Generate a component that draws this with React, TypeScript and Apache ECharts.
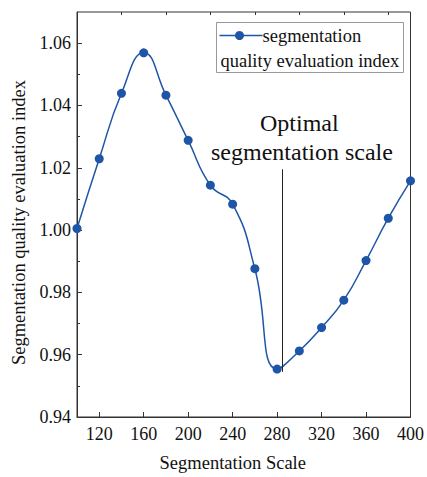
import React, { useEffect, useRef } from "react";
import * as echarts from "echarts";

const scales = [100, 120, 140, 160, 180, 200, 220, 240, 260, 280, 300, 320, 340, 360, 380, 400];
const qualityIndex = [1.0005, 1.0229, 1.0439, 1.0569, 1.0433, 1.0288, 1.0144, 1.0083, 0.9876, 0.9554, 0.9612, 0.9687, 0.9775, 0.9902, 1.0038, 1.0158];
const xMajorTicks = [120, 160, 200, 240, 280, 320, 360, 400];
const xMinorTicks = [140, 180, 220, 260, 300, 340, 380];
const yMajorTicks = [0.94, 0.96, 0.98, 1.0, 1.02, 1.04, 1.06];
const yMinorTicks = [0.95, 0.97, 0.99, 1.01, 1.03, 1.05];
const optimalScale = 285;
const optimalLineTop = 1.0195;
const optimalLineBottom = 0.9545;
const seriesName = "segmentation quality evaluation index";
const legendLine1 = "segmentation";
const legendLine2 = "quality evaluation index";
const annotationLine1 = "Optimal";
const annotationLine2 = "segmentation scale";
const xTitle = "Segmentation Scale";
const yTitle = "Segmentation quality evaluation index";

const FONT = "'Liberation Serif', 'Times New Roman', serif";
const BLUE = "#1f55a6";
const AXIS = "#333333";

export default function App() {
  const ref = useRef<HTMLDivElement>(null);
  useEffect(() => {
    if (!ref.current) return;
    const chart = echarts.init(ref.current, undefined, { renderer: "svg" });
    const xCommon = {
      type: "value",
      min: 100,
      max: 400,
      axisLine: { show: true, lineStyle: { color: AXIS, width: 1 } },
      splitLine: { show: false },
    };
    const yCommon = {
      type: "value",
      min: 0.94,
      max: 1.07,
      axisLine: { show: true, lineStyle: { color: AXIS, width: 1 } },
      splitLine: { show: false },
    };
    chart.setOption({
      animation: false,
      backgroundColor: "#ffffff",
      grid: {
        left: 77,
        right: 15,
        top: 12,
        bottom: 56,
        show: true,
        borderColor: AXIS,
        borderWidth: 1,
        backgroundColor: "transparent",
      },
      xAxis: [
        {
          ...xCommon,
          name: xTitle,
          nameLocation: "middle",
          nameGap: 36,
          nameTextStyle: { fontFamily: FONT, fontSize: 18.5, color: "#111", padding: [0, 22, 0, 0] },
          axisTick: { show: true, inside: true, length: 5, customValues: xMajorTicks, lineStyle: { color: AXIS } },
          axisLabel: {
            show: true,
            customValues: xMajorTicks,
            margin: 8,
            fontFamily: FONT,
            fontSize: 18,
            color: "#111",
          },
        },
        {
          ...xCommon,
          axisLine: { show: false },
          axisTick: { show: true, inside: true, length: 3, customValues: xMinorTicks, lineStyle: { color: AXIS } },
          axisLabel: { show: false },
        },
      ],
      yAxis: [
        {
          ...yCommon,
          name: yTitle,
          nameLocation: "middle",
          nameGap: 47,
          nameRotate: 90,
          nameTextStyle: { fontFamily: FONT, fontSize: 18.5, color: "#111", padding: [0, 16, 0, 0] },
          axisTick: { show: true, inside: true, length: 5, customValues: yMajorTicks, lineStyle: { color: AXIS } },
          axisLabel: {
            show: true,
            customValues: yMajorTicks,
            margin: 6,
            fontFamily: FONT,
            fontSize: 18,
            color: "#111",
            formatter: (v: number) => v.toFixed(2),
          },
        },
        {
          ...yCommon,
          position: "left",
          axisLine: { show: false },
          axisTick: { show: true, inside: true, length: 3, customValues: yMinorTicks, lineStyle: { color: AXIS } },
          axisLabel: { show: false },
        },
      ],
      series: [
        {
          name: seriesName,
          type: "line",
          xAxisIndex: 0,
          yAxisIndex: 0,
          data: scales.map((s, i) => [s, qualityIndex[i]]),
          smooth: 0.5,
          symbol: "circle",
          symbolSize: 9,
          lineStyle: { color: BLUE, width: 1.5 },
          itemStyle: { color: BLUE },
          markLine: {
            silent: true,
            symbol: ["none", "none"],
            label: { show: false },
            lineStyle: { color: "#222", width: 1, type: "solid" },
            data: [
              [
                { coord: [optimalScale, optimalLineTop] },
                { coord: [optimalScale, optimalLineBottom] },
              ],
            ],
          },
        },
      ],
      graphic: [
        {
          type: "text",
          left: 260,
          top: 111,
          style: { text: annotationLine1, font: `24px ${FONT}`, fill: "#111" },
        },
        {
          type: "text",
          left: 211,
          top: 140,
          style: { text: annotationLine2, font: `24px ${FONT}`, fill: "#111" },
        },
        {
          type: "group",
          left: 216,
          top: 22,
          children: [
            {
              type: "rect",
              shape: { x: 0, y: 0, width: 187, height: 50 },
              style: { fill: "#ffffff", stroke: "#999", lineWidth: 1 },
            },
            {
              type: "line",
              shape: { x1: 3, y1: 13, x2: 46, y2: 13 },
              style: { stroke: BLUE, lineWidth: 1.5 },
            },
            {
              type: "circle",
              shape: { cx: 23, cy: 13, r: 4.5 },
              style: { fill: BLUE },
            },
            {
              type: "text",
              x: 46,
              y: 13,
              style: { text: legendLine1, font: `18.5px ${FONT}`, fill: "#111", textVerticalAlign: "middle", verticalAlign: "middle" },
            },
            {
              type: "text",
              x: 4,
              y: 38,
              style: { text: legendLine2, font: `18.5px ${FONT}`, fill: "#111", textVerticalAlign: "middle", verticalAlign: "middle" },
            },
          ],
        },
      ],
    });
    return () => chart.dispose();
  }, []);
  return <div ref={ref} style={{ width: 427, height: 477, position: "absolute", left: 0, top: 0 }} />;
}
